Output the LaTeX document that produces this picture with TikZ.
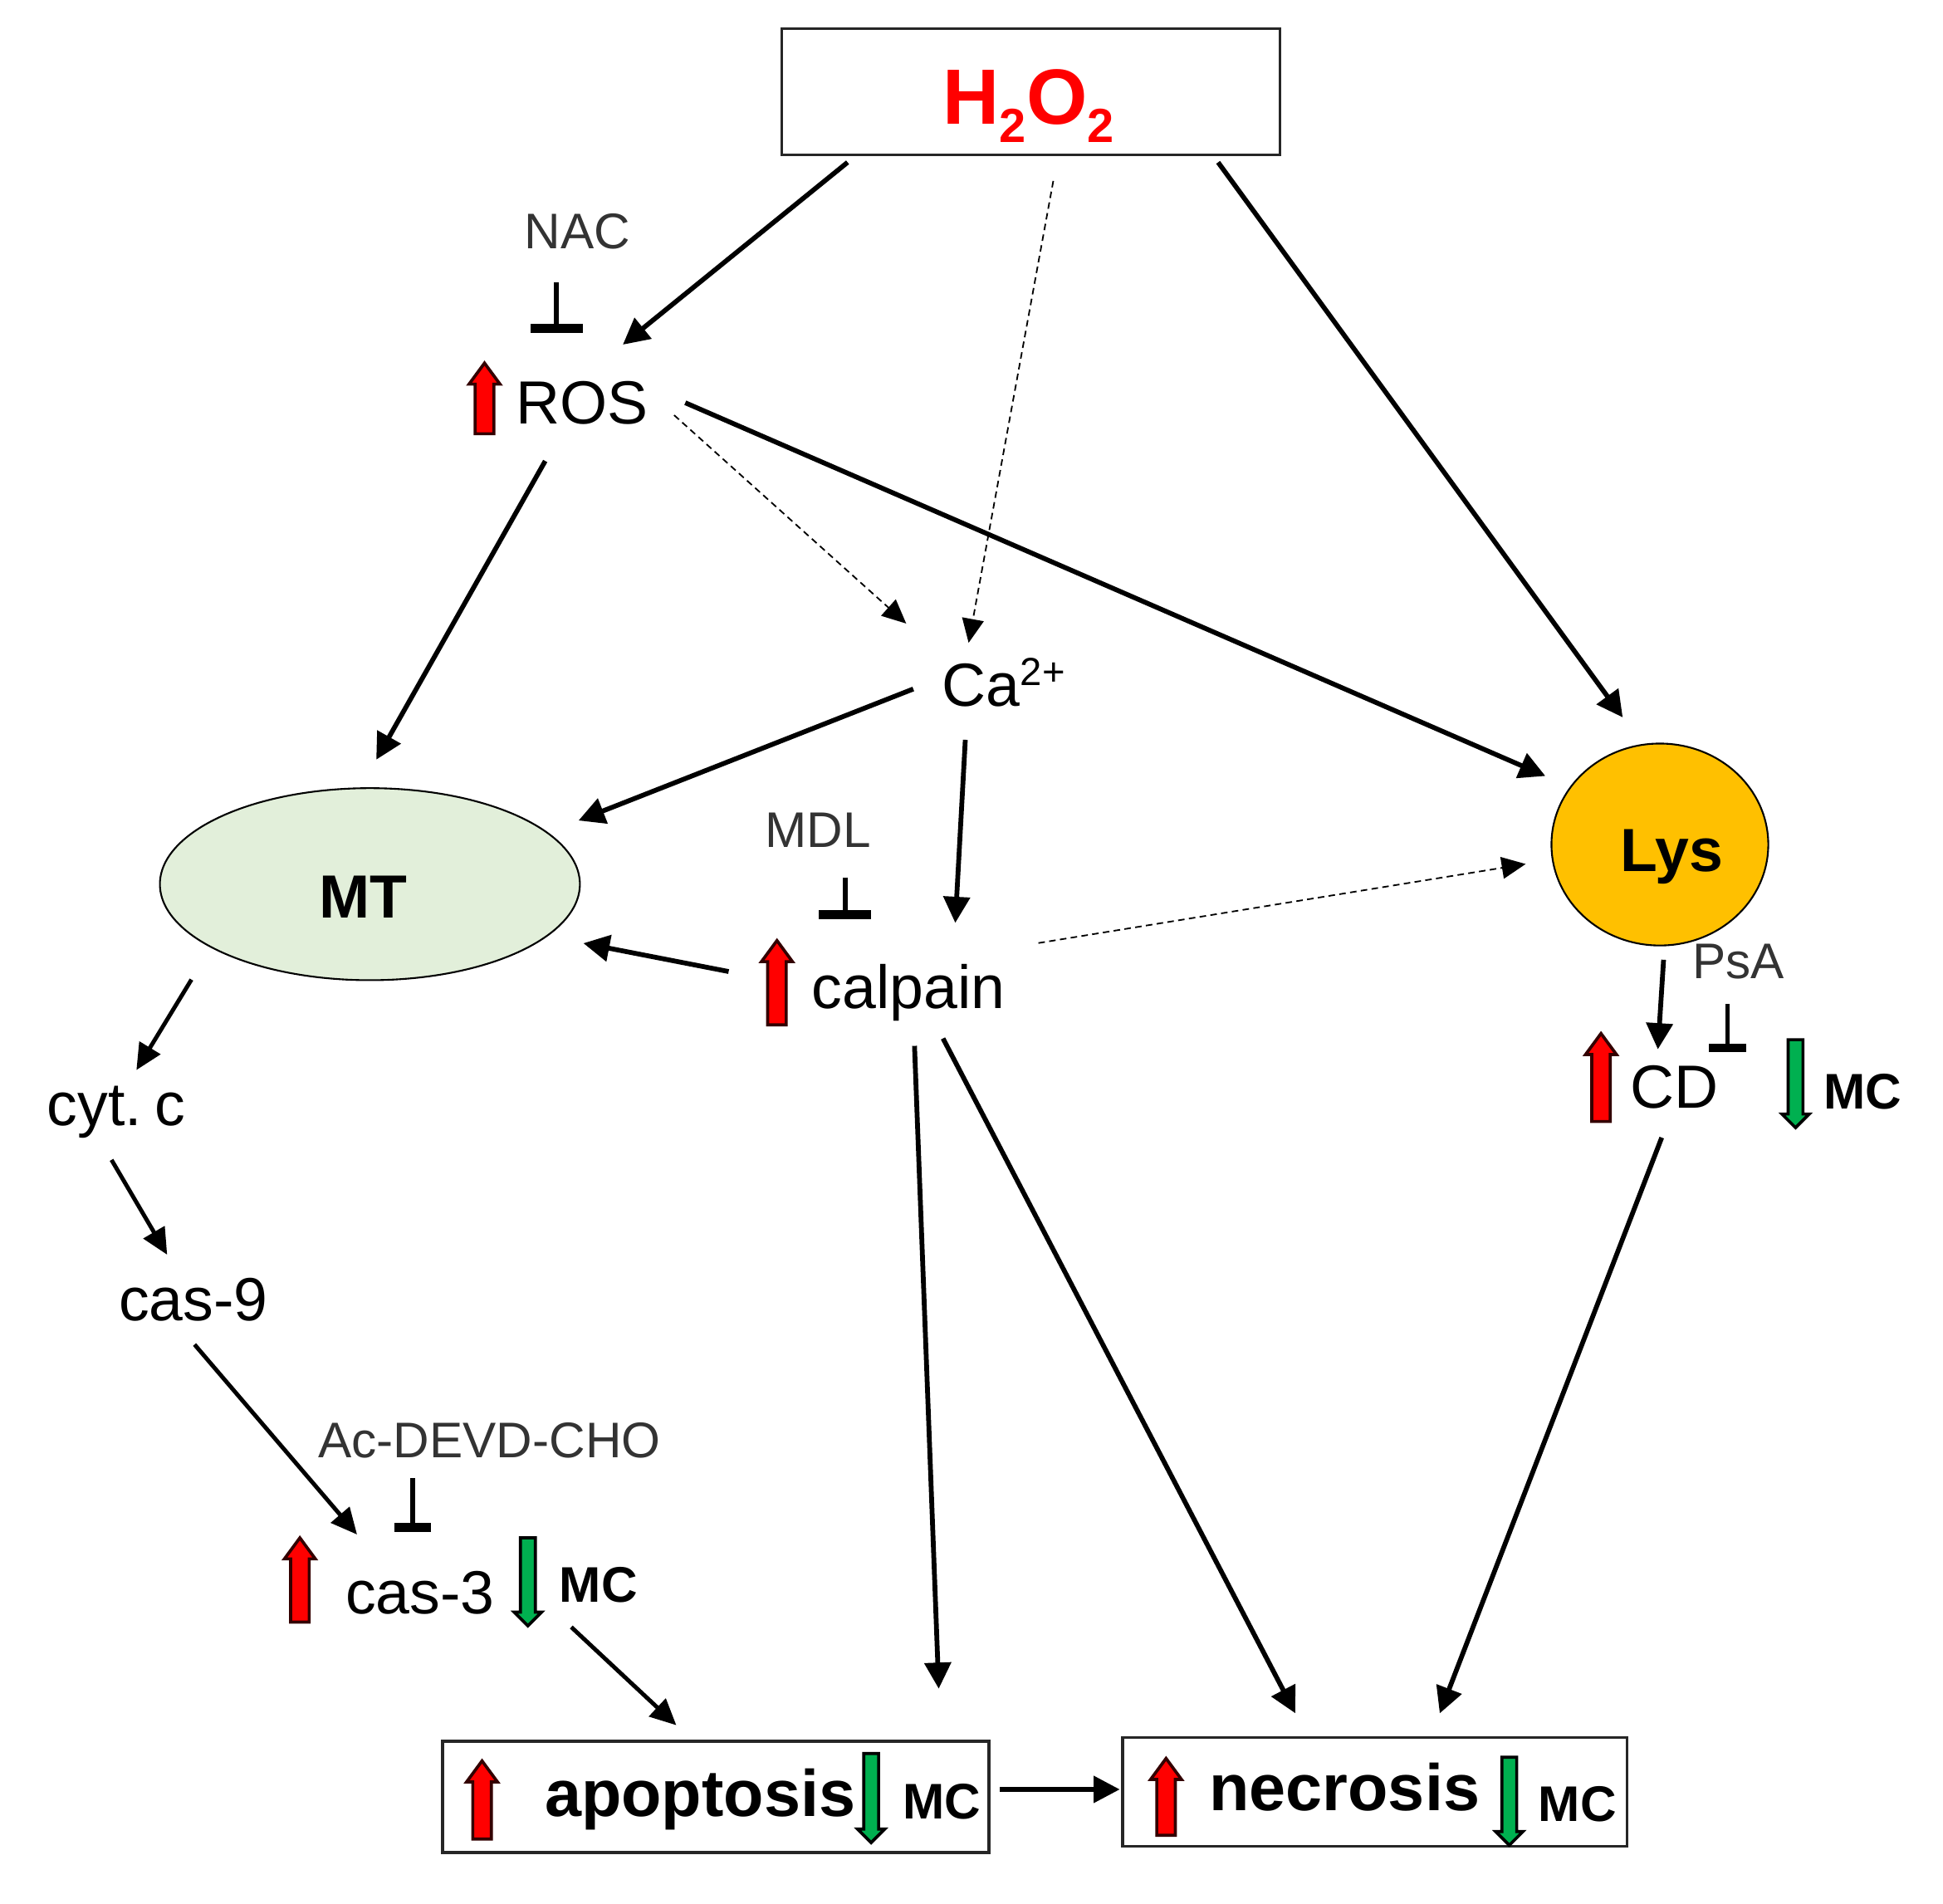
\documentclass[tikz,border=0pt]{standalone}
\usepackage{fontspec}
\setmainfont{Liberation Sans}
\usetikzlibrary{arrows.meta,calc,shapes.geometric}
\definecolor{mtfill}{HTML}{E2EFDA}
\definecolor{lysfill}{HTML}{FFC000}
\definecolor{grnfill}{HTML}{00B050}
\definecolor{boxline}{HTML}{262626}
\tikzset{
  x=0.02cm,y=-0.02cm,
  lab/.style={anchor=base,inner sep=0pt,font=\fontsize{28}{32}\selectfont},
  inhlab/.style={anchor=base,inner sep=0pt,text=black!80,font=\fontsize{23}{26}\selectfont},
  mclab/.style={anchor=base,inner sep=0pt,font=\fontsize{23}{26}\selectfont\bfseries},
  boldlab/.style={anchor=base,inner sep=0pt,font=\fontsize{28}{32}\selectfont\bfseries},
  endlab/.style={anchor=base,inner sep=0pt,font=\fontsize{30.2}{34}\selectfont\bfseries},
  framebox/.style={draw=boxline,line width=1.3pt,fill=white,inner sep=0pt},
  arr/.style={line width=2.2pt,shorten >=-1pt,-{Triangle[length=12pt,width=12pt]}},
  arrthin/.style={line width=1.9pt,shorten >=-1pt,-{Triangle[length=12pt,width=11pt]}},
  dasharr/.style={line width=0.7pt,densely dashed,shorten >=-1pt,-{Triangle[length=11pt,width=10pt]}},
  inh/.style={line width=2.1pt,-{Bar[width=24pt,line width=4.2pt,length=4.2pt]}},
  inhshort/.style={line width=2.1pt,-{Bar[width=17pt,line width=4pt,length=4pt]}},
  redblock/.style={draw=black!80!red,line width=1.4pt,fill=red},
  grnblock/.style={draw=black,line width=1.4pt,fill=grnfill},
}
\newcommand{\upblock}[3]{\draw[redblock] ({#1-7.5},#3) -- ({#1-7.5},{#2+17}) -- ({#1-12.5},{#2+17}) -- (#1,#2) -- ({#1+12.5},{#2+17}) -- ({#1+7.5},{#2+17}) -- ({#1+7.5},#3) -- cycle;}
\newcommand{\downblock}[3]{\draw[grnblock] ({#1-6},#2) -- ({#1-6},{#3-11}) -- ({#1-11},{#3-11}) -- (#1,#3) -- ({#1+11},{#3-11}) -- ({#1+6},{#3-11}) -- ({#1+6},#2) -- cycle;}
\begin{document}
\begin{tikzpicture}
\useasboundingbox (0,0) rectangle (1568,1536);
% boxes and shapes
\node[framebox,minimum width=8.04cm,minimum height=2.04cm] (topbox) at (832,74) {};
\node[framebox,minimum width=8.82cm,minimum height=1.8cm] (apobox) at (577.5,1450) {};
\node[framebox,minimum width=8.14cm,minimum height=1.76cm] (necbox) at (1109.5,1446) {};
\node[draw=black,line width=0.8pt,fill=mtfill,ellipse,minimum width=6.78cm,minimum height=3.1cm,inner sep=0pt] (mt) at (298.5,713.5) {};
\node[draw=black,line width=0.8pt,fill=lysfill,ellipse,minimum width=3.5cm,minimum height=3.26cm,inner sep=0pt] (lys) at (1339.5,681.5) {};
% labels
\node[anchor=base,inner sep=0pt,text=red,font=\fontsize{36}{40}\selectfont\bfseries] (h2o2) at (830,100) {H\raisebox{-8.5pt}{\fontsize{22}{24}\selectfont 2}O\raisebox{-8.5pt}{\fontsize{22}{24}\selectfont 2}};
\node[lab] (ros) at (470,342) {ROS};
\node[lab] (ca) at (810,570) {Ca\raisebox{9.6pt}{\fontsize{18}{20}\selectfont 2+}};
\node[lab] (calpain) at (733,814) {calpain};
\node[lab] (cytc) at (94,908) {cyt.\hspace{6pt}c};
\node[lab] (cas9) at (156,1066) {cas-9};
\node[lab] (cas3) at (339,1302) {cas-3};
\node[lab] (cd) at (1351,894) {CD};
\node[inhlab] (nac) at (466,201) {NAC};
\node[inhlab] (mdl) at (660,684) {MDL};
\node[inhlab] (psa) at (1403,790) {PsA};
\node[inhlab] (acd) at (395,1176) {Ac-DEVD-CHO};
\node[mclab] (mccd) at (1503,895) {MC};
\node[mclab] (mccas) at (483,1293) {MC};
\node[mclab] (mcapo) at (760,1468) {MC};
\node[mclab] (mcnec) at (1273,1470) {MC};
\node[boldlab] (mttext) at (293,741) {MT};
\node[boldlab] (lystext) at (1349,703) {Lys};
\node[endlab] (apotext) at (565,1466) {apoptosis};
\node[endlab] (nectext) at (1085,1461) {necrosis};
% connectors
\draw[arr] ($(topbox.center)+(-148,57)$) -- ($(ros.base)+(34,-65)$);
\draw[dasharr] ($(topbox.center)+(18,72)$) -- ($(ca.base)+(-28,-53)$);
\draw[arr] ($(topbox.center)+(151,57)$) -- ($(lys.center)+(-31,-104)$);
\draw[arr] ($(ros.base)+(83,-17)$) -- ($(lys.center)+(-94,-56)$);
\draw[dasharr] ($(ros.base)+(74,-7)$) -- ($(ca.base)+(-80,-68)$);
\draw[arr] ($(ros.base)+(-30,30)$) -- ($(mt.center)+(6,-102)$);
\draw[arr] ($(ca.base)+(-73,-14)$) -- ($(mt.center)+(170,-52)$);
\draw[arr] ($(ca.base)+(-31,27)$) -- ($(calpain.base)+(38,-71)$);
\draw[dasharr] ($(calpain.base)+(105,-53)$) -- ($(lys.center)+(-110,16)$);
\draw[arr] ($(calpain.base)+(-145,-30)$) -- ($(mt.center)+(174,48)$);
\draw[arrthin] ($(mt.center)+(-144,77)$) -- ($(cytc.base)+(17,-46)$);
\draw[arrthin] ($(cytc.base)+(-4,28)$) -- ($(cas9.base)+(-22,-55)$);
\draw[arrthin] ($(cas9.base)+(1,19)$) -- ($(cas3.base)+(-52,-65)$);
\draw[arrthin] ($(cas3.base)+(122,11)$) -- ($(apobox.center)+(-33,-59)$);
\draw[arr] ($(calpain.base)+(5,30)$) -- ($(apobox.center)+(180,-89)$);
\draw[arr] ($(calpain.base)+(28,24)$) -- ($(necbox.center)+(-65,-65)$);
\draw[arr] ($(cd.base)+(-10,24)$) -- ($(necbox.center)+(53,-65)$);
\draw[arr] ($(lys.center)+(3,93)$) -- ($(cd.base)+(-13,-49)$);
\draw[arr] ($(apobox.east)+(8,-6)$) -- ($(necbox.west)+(-3,-2)$);
% inhibitors
\draw[inh] ($(nac.base)+(-17,27)$) -- ($(nac.base)+(-17,68)$);
\draw[inh] ($(mdl.base)+(22,24)$) -- ($(mdl.base)+(22,58)$);
\draw[inhshort] ($(psa.base)+(-9,20)$) -- ($(psa.base)+(-9,59)$);
\draw[inhshort] ($(acd.base)+(-62,17)$) -- ($(acd.base)+(-62,60)$);
% block arrows
\upblock{391}{293}{350}
\upblock{627}{759}{827}
\upblock{1292}{834}{905}
\upblock{242}{1241}{1309}
\upblock{389}{1421}{1484}
\upblock{941}{1419}{1481}
\downblock{1449}{839}{910}
\downblock{426}{1241}{1312}
\downblock{703}{1415}{1487}
\downblock{1218}{1418}{1489}
\end{tikzpicture}
\end{document}
